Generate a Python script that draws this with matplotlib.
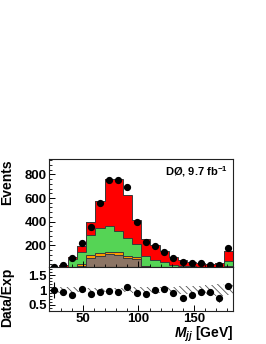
import numpy as np
import matplotlib
matplotlib.use('Agg')
import matplotlib.pyplot as plt
from matplotlib.ticker import MultipleLocator

plt.rcParams['font.family'] = ['Liberation Sans', 'DejaVu Sans']
plt.rcParams['font.weight'] = 'bold'
plt.rcParams['mathtext.fontset'] = 'custom'
plt.rcParams['mathtext.rm'] = 'Liberation Sans:bold'
plt.rcParams['mathtext.bf'] = 'Liberation Sans:bold'
plt.rcParams['mathtext.it'] = 'Liberation Sans:bold:italic'
plt.rcParams['hatch.linewidth'] = 0.6

# dijet mass bins (GeV)
edges = [20, 28.25, 36.5, 44.75, 53, 61.25, 69.5, 77.75, 86, 94.25, 102.5,
         110.75, 119, 127.25, 135.5, 143.75, 152, 160.25, 168.5, 176.75, 185]

# stacked expectation, bottom to top
brown = [4, 6, 8, 28, 95, 110, 125, 120, 90, 85, 8, 6, 5, 4, 3, 3, 3, 3, 3, 14]
orange = [3, 4, 8, 15, 20, 22, 23, 20, 18, 15, 15, 12, 10, 7, 6, 5, 5, 4, 4, 13]
green = [5, 10, 67, 105, 175, 215, 218, 184, 152, 110, 90, 61, 45, 26, 14, 14, 12, 11, 11, 43]
red = [8, 16, 23, 50, 110, 224, 394, 436, 368, 205, 141, 127, 90, 69, 50, 40, 32, 26, 30, 85]

data = [18, 37, 94, 220, 352, 558, 755, 755, 690, 397, 226, 192, 141, 94, 57, 51, 48, 37, 37, 175]

# ratio panel
ratio = [1.0, 0.93, 0.82, 1.05, 0.86, 0.94, 0.98, 0.94, 1.09, 0.91,
         0.86, 1.01, 1.05, 0.89, 0.72, 0.84, 0.93, 0.93, 0.72, 1.14]
ratio_err = [0.28, 0.1, 0.06, 0.05, 0.04, 0.03, 0.03, 0.03, 0.03, 0.04,
             0.05, 0.06, 0.07, 0.08, 0.1, 0.1, 0.1, 0.11, 0.11, 0.08]
syst = [0.1, 0.09, 0.09, 0.08, 0.08, 0.08, 0.08, 0.08, 0.08, 0.09,
        0.09, 0.1, 0.1, 0.11, 0.12, 0.13, 0.14, 0.17, 0.2, 0.17]

edges = np.array(edges)
centers = 0.5 * (edges[1:] + edges[:-1])

fig = plt.figure(figsize=(2.66, 3.44), dpi=100)
ax = fig.add_axes([0.186, 0.223, 0.69, 0.315])
axr = fig.add_axes([0.186, 0.096, 0.69, 0.127], sharex=ax)

layers = [brown, orange, green, red]
colors = ['#8c7565', '#ff9a00', '#55d455', '#ff0000']
base = np.zeros(len(brown))
tops = []
for vals, col in zip(layers, colors):
    top = base + np.array(vals)
    ax.stairs(top, edges, baseline=base, fill=True, color=col, lw=0)
    tops.append(top)
    base = top
for top in tops:
    ax.stairs(top, edges, color='#3a3a3a', lw=0.7)

ax.plot(centers, data, 'o', color='k', ms=4.2)

ax.set_xlim(20, 185)
ax.set_ylim(15, 930)
ax.yaxis.set_major_locator(MultipleLocator(200))
ax.yaxis.set_minor_locator(MultipleLocator(40))
ax.xaxis.set_major_locator(MultipleLocator(50))
ax.xaxis.set_minor_locator(MultipleLocator(10))
ax.tick_params(axis='x', labelbottom=False)

ax.text(0.97, 0.88, r'DØ, 9.7 fb$^{-1}$', transform=ax.transAxes,
        ha='right', va='center', fontsize=8, fontweight='bold')

# ratio
axr.stairs(1 + np.array(syst), edges, baseline=1 - np.array(syst), fill=True,
           facecolor='none', edgecolor='#555555', hatch='\\\\\\\\\\', lw=0)
axr.errorbar(centers, ratio, yerr=ratio_err, fmt='o', color='k', ms=4.2,
             elinewidth=0.8, capsize=0)
axr.set_ylim(0.3, 1.76)
axr.yaxis.set_minor_locator(MultipleLocator(0.1))
axr.set_yticks([0.5, 1, 1.5])
axr.set_yticklabels(['0.5', '1', '1.5'])

for a in (ax, axr):
    a.tick_params(which='both', direction='in', labelsize=9.5, pad=2)
    a.tick_params(which='major', length=4.5, width=0.7)
    a.tick_params(which='minor', length=2.5, width=0.6)
    for s in a.spines.values():
        s.set_linewidth(0.8)
        s.set_color('#222222')
    for lab in a.get_xticklabels() + a.get_yticklabels():
        lab.set_fontweight('bold')
axr.tick_params(axis='x', pad=1.5)

fig.text(0.028, 0.537, 'Events', rotation=90, ha='center', va='top',
         fontsize=10, fontweight='bold')
fig.text(0.028, 0.221, 'Data/Exp', rotation=90, ha='center', va='top',
         fontsize=10, fontweight='bold')
fig.text(0.876, 0.019, r'$\mathit{M}_{\mathit{jj}}$ [GeV]', ha='right',
         va='baseline', fontsize=10, fontweight='bold')

fig.savefig('out.png', dpi=100)
